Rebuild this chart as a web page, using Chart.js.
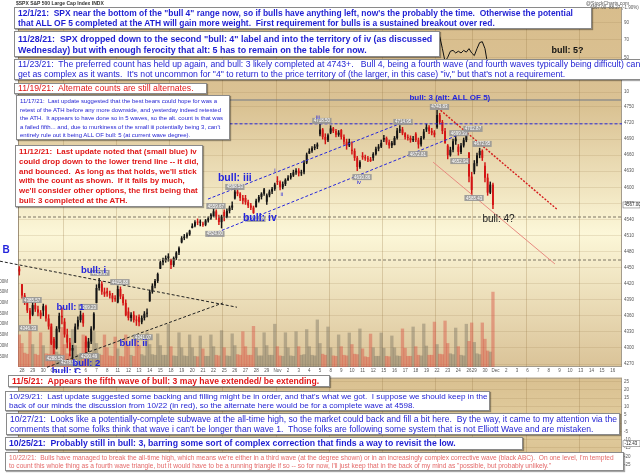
<!DOCTYPE html>
<html>
<head>
<meta charset="utf-8">
<title>$SPX 30 min</title>
<script src="https://cdn.jsdelivr.net/npm/chart.js@4.4.1/dist/chart.umd.min.js"></script>
<style>
  body { margin: 0; background: #fff; }
  #page { position: relative; width: 640px; height: 473px; overflow: hidden; font-family: "Liberation Sans", Arial, sans-serif; }
  canvas { position: absolute; left: 0; }
  #priceChart { top: 0; }
  #lowerChart { top: 373px; }
  .note { position: absolute; box-sizing: border-box; background: #fff; border: 1px solid #8a8a8a;
          box-shadow: 1px 1px 1px rgba(0,0,0,0.35); white-space: pre; overflow: hidden; padding: 0 3px; }
  .tiny { position: absolute; font-size: 5px; line-height: 6px; color: #555; white-space: nowrap; }
</style>
</head>
<body>
<div id="page">
  <canvas id="priceChart" width="640" height="373"></canvas>
  <canvas id="lowerChart" width="640" height="100"></canvas>
  <div class="tiny" style="left:16px;top:0;font-weight:bold;color:#333">$SPX S&amp;P 500 Large Cap Index INDX</div>
  <div class="tiny" style="left:586px;top:0">@StockCharts.com</div>
  <div class="tiny" style="left:590px;top:5px;font-size:4.5px">4567.00 -88.27 (-1.90%)</div>
</div>
<script>
// trading days on the axis (Sep 27 is only the last bar, Nov 26 is a half day)
const tradingDays = [
  '2021-09-27','2021-09-28','2021-09-29','2021-09-30',
  '2021-10-01','2021-10-04','2021-10-05','2021-10-06','2021-10-07','2021-10-08',
  '2021-10-11','2021-10-12','2021-10-13','2021-10-14','2021-10-15',
  '2021-10-18','2021-10-19','2021-10-20','2021-10-21','2021-10-22',
  '2021-10-25','2021-10-26','2021-10-27','2021-10-28','2021-10-29',
  '2021-11-01','2021-11-02','2021-11-03','2021-11-04','2021-11-05',
  '2021-11-08','2021-11-09','2021-11-10','2021-11-11','2021-11-12',
  '2021-11-15','2021-11-16','2021-11-17','2021-11-18','2021-11-19',
  '2021-11-22','2021-11-23','2021-11-24','2021-11-26',
  '2021-11-29','2021-11-30',
  '2021-12-01','2021-12-02','2021-12-03','2021-12-06','2021-12-07','2021-12-08',
  '2021-12-09','2021-12-10','2021-12-13','2021-12-14','2021-12-15','2021-12-16'
];
const shortDays = { '2021-09-27': 1, '2021-11-26': 2 };
const monthNames = ['Jan','Feb','Mar','Apr','May','Jun','Jul','Aug','Sep','Oct','Nov','Dec'];

// candles, 4 bars per session
const opens = [
  4448,
  4419,4398,4385,4370,  4362,4380,4372,4366,  4370,4378,4355,4340,
  4317,4300,4336,4360,  4349,4325,4310,4295,  4310,4340,4352,4362,
  4320,4300,4312,4336,  4384,4412,4420,4405,  4406,4402,4398,4392,
  4385,4410,4396,4384,  4368,4356,4362,4352,  4358,4348,4356,4364,
  4387,4405,4416,4425,  4448,4460,4464,4468,  4464,4455,4468,4478,
  4497,4505,4508,4512,  4524,4528,4535,4534,  4532,4530,4538,4542,
  4546,4555,4545,4535,  4554,4545,4556,4562,  4579,4592,4588,4580,
  4580,4572,4566,4562,  4563,4575,4582,4588,  4573,4585,4592,4597,
  4611,4610,4600,4606,  4613,4618,4622,4628,  4631,4626,4628,4646,
  4663,4668,4673,4676,  4699,4708,4694,4688,  4702,4710,4705,4698,
  4707,4694,4685,4678,  4670,4668,4655,4638,  4659,4656,4654,4652,
  4655,4662,4672,4676,  4689,4692,4684,4678,  4679,4692,4706,4708,
  4701,4694,4692,4688,  4700,4688,4680,4692,  4708,4712,4705,4702,
  4712,4735,4722,4705,  4678,4660,4670,4686,  4676,4666,4678,4688,
  4665,4620,
  4629,4645,4660,4668,  4640,4618,4590,4605
];
const highs = [
  4452,
  4419,4402,4389,4374,  4385,4384,4378,4370,  4382,4380,4362,4345,
  4320,4340,4365,4375,  4355,4335,4318,4305,  4345,4358,4369,4365,
  4322,4318,4340,4366,  4418,4430,4424,4412,  4412,4406,4402,4398,
  4416,4414,4400,4390,  4375,4366,4368,4360,  4362,4360,4368,4373,
  4408,4420,4428,4440,  4462,4468,4472,4476,  4466,4470,4480,4489,
  4508,4512,4515,4520,  4532,4538,4541,4539,  4535,4540,4545,4551,
  4560,4558,4548,4548,  4558,4560,4565,4573,  4598,4596,4590,4585,
  4585,4576,4570,4565,  4578,4585,4590,4598,  4588,4595,4600,4608,
  4620,4612,4610,4616,  4622,4626,4632,4635,  4635,4632,4650,4664,
  4672,4676,4680,4683,  4718,4710,4700,4700,  4715,4712,4708,4706,
  4708,4698,4690,4690,  4685,4672,4658,4650,  4665,4660,4658,4656,
  4665,4675,4680,4688,  4697,4694,4688,4686,  4695,4710,4715,4712,
  4702,4698,4696,4695,  4702,4692,4695,4708,  4718,4715,4710,4706,
  4744,4738,4725,4710,  4680,4675,4690,4699,  4680,4682,4692,4703,
  4665,4628,
  4650,4664,4673,4670,  4646,4625,4610,4608
];
const lows = [
  4436,
  4393,4381,4366,4346,  4360,4368,4360,4355,  4360,4350,4335,4306,
  4289,4298,4330,4345,  4320,4300,4285,4279,  4310,4335,4348,4340,
  4291,4293,4308,4333,  4384,4408,4400,4396,  4396,4393,4386,4387,
  4384,4392,4380,4360,  4352,4350,4348,4342,  4341,4345,4352,4358,
  4387,4402,4412,4422,  4448,4455,4460,4462,  4448,4452,4465,4474,
  4496,4502,4505,4510,  4524,4526,4530,4528,  4527,4528,4535,4540,
  4545,4540,4530,4524,  4537,4543,4552,4558,  4578,4584,4575,4569,
  4568,4562,4558,4551,  4563,4572,4578,4585,  4568,4582,4588,4594,
  4605,4595,4597,4603,  4613,4615,4620,4624,  4621,4622,4625,4644,
  4663,4665,4670,4672,  4696,4690,4681,4685,  4700,4702,4694,4695,
  4690,4680,4671,4676,  4662,4650,4631,4635,  4652,4650,4648,4648,
  4650,4660,4668,4674,  4685,4680,4673,4674,  4679,4690,4702,4698,
  4690,4688,4684,4685,  4685,4673,4677,4690,  4704,4700,4698,4694,
  4710,4718,4700,4682,  4653,4658,4666,4680,  4660,4663,4675,4685,
  4610,4585,
  4625,4640,4655,4650,  4610,4585,4588,4560
];
const closes = [
  4443,
  4398,4385,4370,4353,  4380,4372,4366,4359,  4378,4355,4340,4308,
  4300,4336,4360,4357,  4325,4310,4295,4300,  4340,4352,4362,4346,
  4300,4312,4336,4364,  4412,4420,4405,4400,  4402,4398,4392,4391,
  4410,4396,4384,4361,  4356,4362,4352,4351,  4348,4356,4364,4364,
  4405,4416,4425,4438,  4460,4464,4468,4471,  4455,4468,4478,4486,
  4505,4508,4512,4519,  4528,4535,4534,4536,  4530,4538,4542,4549,
  4555,4545,4535,4545,  4545,4556,4562,4566,  4592,4588,4580,4575,
  4572,4566,4562,4552,  4575,4582,4588,4596,  4585,4592,4597,4605,
  4610,4600,4606,4614,  4618,4622,4628,4631,  4626,4628,4646,4661,
  4668,4673,4676,4680,  4708,4694,4688,4697,  4710,4705,4698,4702,
  4694,4685,4678,4685,  4668,4655,4638,4647,  4656,4654,4652,4649,
  4662,4672,4676,4683,  4692,4684,4678,4683,  4692,4706,4708,4701,
  4694,4692,4688,4689,  4688,4680,4692,4704,  4712,4705,4702,4698,
  4735,4722,4705,4683,  4660,4670,4686,4691,  4666,4678,4688,4701,
  4620,4595,
  4645,4660,4668,4655,  4618,4590,4605,4567
];
// volume in millions
const volumes = [
  150,
  110,65,60,190,  105,60,55,160,  100,62,60,200,
  120,70,60,185,  105,62,58,175,  100,58,55,150,
  115,65,60,165,  110,60,55,150,  90,52,50,140,
  85,50,48,150,   95,55,50,145,   100,58,52,160,
  105,58,55,155,  100,55,55,200,  95,52,50,160,
  90,52,50,150,   90,50,48,145,   85,50,50,150,
  95,55,52,170,   90,52,50,155,   100,58,55,165,
  95,55,55,190,   90,52,52,160,   100,55,55,200,
  95,52,50,160,   90,52,50,165,   95,55,58,175,
  95,55,52,220,   110,60,55,187,  90,52,50,150,
  95,55,52,159,   105,60,58,178,  85,48,45,154,
  90,50,50,159,   88,50,48,145,   90,52,50,178,
  88,50,50,187,   95,55,52,201,   98,55,55,210,
  105,60,58,215,  110,62,58,182,  95,55,52,200,
  120,206,
  115,62,58,206,  130,75,70,350
];
// top oscillator panel, only the part that shows between the notes (from bar 157 on)
const rsiStart = 157;
const rsiValues = [72, 74, 60, 45, 50, 57, 58, 55, 57, 55, 58, 56, 60, 55, 52, 60, 67, 68, 60, 42, 38, 35];
const lowerLast = -12.43;

const priceTicks = [4270,4280,4290,4300,4310,4320,4330,4340,4350,4360,4370,4380,4390,4400,4410,4420,
  4430,4440,4450,4460,4470,4480,4490,4500,4510,4520,4530,4540,4550,4560,4570,4580,4590,4600,4610,
  4620,4630,4640,4650,4660,4670,4680,4690,4700,4710,4720,4730,4740,4750];
const volumeTicks = [50,100,150,200,250,300,350,400];
const rsiTicks = [10,30,50,70,90];
const lowerTicks = [25,20,15,10,5,0,-5,-10,-15,-20,-25];

// drawn-on lines, tags and wave labels, placed in bar index / price
const blue = '#2525dc';
const trendLines = [
  { from: [70.9, 4578], to: [145.7, 4724], color: blue, width: 1, dash: [3, 2] },
  { from: [70.9, 4509], to: [171.6, 4711], color: blue, width: 1, dash: [3, 2] },
  { from: [79, 4718.5], to: [226.5, 4718.5], color: blue, width: 1, dash: [3, 2] },
  { from: [-7.3, 4462], to: [81.8, 4376], color: '#222', width: 1, dash: [3, 2] },
  { from: [10.4, 4264], to: [76.5, 4384], color: '#222', width: 1, dash: [3, 2] },
  { from: [-0.5, 4544.5], to: [226.5, 4544.5], color: '#7d7565', width: 1, dash: [3, 2] },
  { from: [-0.5, 4464.2], to: [226.5, 4464.2], color: '#7d7565', width: 1, dash: [3, 2] },
  { from: [157.3, 4748], to: [202.4, 4557.6], color: '#d41c1c', width: 1.4, dash: [2, 1.5] },
  { from: [155.5, 4647], to: [201.3, 4456.8], color: '#e88a80', width: 1, dash: [] }
];
const priceTags = [
  { bar: 157.9, price: 4750, text: '4743.83' },
  { bar: 113.7, price: 4724, text: '4718.50' },
  { bar: 144.2, price: 4722, text: '4714.95' },
  { bar: 165.2, price: 4701, text: '4699.39' },
  { bar: 170.5, price: 4709, text: '4702.87' },
  { bar: 149.8, price: 4662, text: '4672.81' },
  { bar: 165.6, price: 4649, text: '4652.94' },
  { bar: 173.9, price: 4681, text: '4672.95' },
  { bar: 170.9, price: 4580, text: '4585.43' },
  { bar: 128.8, price: 4619, text: '4630.86' },
  { bar: 81.0, price: 4600.6, text: '4598.53' },
  { bar: 73.9, price: 4565, text: '4559.67' },
  { bar: 88.9, price: 4541, text: '4551.66' },
  { bar: 73.5, price: 4513, text: '4524.00' },
  { bar: 30.3, price: 4440, text: '4429.97' },
  { bar: 37.8, price: 4423, text: '4415.88' },
  { bar: 4.8, price: 4389.5, text: '4385.57' },
  { bar: 25.8, price: 4376.5, text: '4369.23' },
  { bar: 3.3, price: 4337, text: '4346.33' },
  { bar: 46.5, price: 4320, text: '4341.07' },
  { bar: 13.4, price: 4281, text: '4288.52' },
  { bar: 18.7, price: 4272, text: '4278.94' },
  { bar: 26.2, price: 4285, text: '4290.49' }
];
const waveLabels = [
  { text: 'B', bar: -5.0, price: 4483, font: 'bold 10px', color: blue },
  { text: 'bull: i', bar: 27.9, price: 4445.5, font: 'bold 9.5px', color: blue },
  { text: 'bull: 1', bar: 19.2, price: 4376.5, font: 'bold 9.5px', color: blue },
  { text: 'bull: ii', bar: 42.9, price: 4309, font: 'bold 9.5px', color: blue },
  { text: 'bull: 2', bar: 25.2, price: 4272, font: 'bold 9.5px', color: blue },
  { text: 'bull: C', bar: 17.7, price: 4257, font: 'bold 9.5px', color: blue },
  { text: 'bull: iii', bar: 81.0, price: 4617, font: 'bold 10.5px', color: blue },
  { text: 'bull: iv', bar: 90.4, price: 4543, font: 'bold 10.5px', color: blue },
  { text: 'bull: 3 (alt: ALL OF 5)', bar: 161.8, price: 4767, font: 'bold 8px', color: blue },
  { text: 'bull: 4?', bar: 180.1, price: 4541, font: '10px', color: '#222' },
  { text: 'bull: 5?', bar: 206.0, price: 4855, font: 'bold 9px', color: '#111' },
  { text: 'i', bar: 96.1, price: 4632, font: '6px', color: blue },
  { text: 'ii', bar: 98.7, price: 4586, font: '6px', color: blue },
  { text: 'iii', bar: 112.2, price: 4731, font: '6px', color: blue },
  { text: 'iv', bar: 127.6, price: 4610, font: '6px', color: blue }
];

// the dated notes pasted over the chart
const noteBlue = '#1e1ed2', noteRed = '#e01818';
const notes = [
  { x: 14, y: 7, w: 578, h: 22, size: 8.45, bold: true, lh: 10, color: noteBlue, lines: [
    '12/1/21:  SPX near the bottom of the "bull 4" range now, so if bulls have anything left, now\'s the probably the time.  Otherwise the potential',
    'that ALL OF 5 completed at the ATH will gain more weight.  First requirement for bulls is a sustained breakout over red.'] },
  { x: 14, y: 31, w: 426, h: 26, size: 8.9, bold: true, lh: 10.5, pad: 2, color: noteBlue, lines: [
    '11/28/21:  SPX dropped down to the second "bull: 4" label and into the territory of iv (as discussed',
    'Wednesday) but with enough ferocity that alt: 5 has to remain on the table for now.'] },
  { x: 14, y: 59, w: 640, h: 21, size: 8.7, bold: false, lh: 9.8, color: noteBlue, lines: [
    '11/23/21:  The preferred count has held up again, and bull: 3 likely completed at 4743+.   Bull 4, being a fourth wave (and fourth waves typically being difficult) can',
    'get as complex as it wants.  It\'s not uncommon for "4" to return to the price territory of (the larger, in this case) "iv," but that\'s not a requirement.'] },
  { x: 14, y: 83, w: 193, h: 11, size: 8.7, bold: false, lh: 9.5, color: noteRed, lines: [
    '11/19/21:  Alternate counts are still alternates.'] },
  { x: 16, y: 95, w: 214, h: 45, size: 6, bold: false, lh: 8.5, pad: 1, color: noteBlue, lines: [
    '11/17/21:  Last update suggested that the best bears could hope for was a',
    'retest of the ATH before any more downside, and yesterday indeed retested',
    'the ATH.  It appears to have done so in 5 waves, so the alt. count is that was',
    'a failed fifth... and, due to murkiness of the small iii potentially being 3, can\'t',
    'entirely rule out it being ALL OF bull: 5 (at current wave degree).'] },
  { x: 15, y: 145, w: 188, h: 62, size: 7.95, bold: true, lh: 9.8, pad: 1, color: noteRed, lines: [
    '11/12/21:  Last update noted that (small blue) iv',
    'could drop down to the lower trend line -- it did,',
    'and bounced.  As long as that holds, we\'ll stick',
    'with the count as shown.  If it fails by much,',
    'we\'ll consider other options, the first being that',
    'bull: 3 completed at the ATH.'] },
  { x: 8, y: 375, w: 322, h: 12, size: 8.6, bold: true, lh: 10.5, color: noteRed, lines: [
    '11/5/21:  Appears the fifth wave of bull: 3 may have extended/ be extending.'] },
  { x: 5, y: 391, w: 485, h: 20, size: 8.1, bold: false, lh: 9.2, color: noteBlue, lines: [
    '10/29/21:  Last update suggested some backing and filling might be in order, and that\'s what we got.  I suppose we should keep in the',
    'back of our minds the discussion from 10/22 (in red), so the alternate here would be for a complete wave at 4598.'] },
  { x: 6, y: 413, w: 614, h: 22, size: 8.6, bold: false, lh: 10, color: noteBlue, lines: [
    '10/27/21:  Looks like a potentially-complete subwave at the all-time high, so the market could back and fill a bit here.  By the way, it came to my attention via the',
    'comments that some folks think that wave i can\'t be longer than wave 1.  Those folks are following some system that is not Elliott Wave and are mistaken.'] },
  { x: 5, y: 437, w: 518, h: 13, size: 8.7, bold: true, lh: 11, color: noteBlue, lines: [
    '10/25/21:  Probably still in bull: 3, barring some sort of complex correction that finds a way to revisit the low.'] },
  { x: 5, y: 452, w: 619, h: 19, size: 6.6, bold: false, lh: 8, pad: 1, color: '#e46a6a', lines: [
    '10/22/21:  Bulls have managed to break the all-time high, which means we\'re either in a third wave (at the degree shown) or in an increasingly complex corrective wave (black ABC).  On one level, I\'m tempted',
    'to count this whole thing as a fourth wave triangle, but it would have to be a running triangle if so -- so for now, I\'ll just keep that in the back of my mind as "possible, but probably unlikely."'] }
];

Chart.defaults.font.family = '"Liberation Sans", Arial, sans-serif';

// category labels: one slot per bar, the date only on the first bar of a session
const barLabels = [];
const mondayStart = [];
tradingDays.forEach((d, n) => {
  const count = shortDays[d] || 4;
  const dt = new Date(d + 'T12:00:00Z');
  const day = dt.getUTCDate();
  const text = n === 0 ? '' : (day === 1 ? monthNames[dt.getUTCMonth()] : String(day));
  for (let k = 0; k < count; k++) {
    barLabels.push(k === 0 ? text : '');
    mondayStart.push(k === 0 && dt.getUTCDay() === 1);
  }
});

const upColor = '#151515', downColor = '#d41414';
const isUp = i => closes[i] >= opens[i];
const gridColor = 'rgba(150,120,70,0.17)';
const mondayGrid = ctx => (mondayStart[ctx.index] ? 'rgba(150,120,70,0.28)' : 'transparent');
const rsiData = barLabels.map((_, i) => (i >= rsiStart && i - rsiStart < rsiValues.length ? rsiValues[i - rsiStart] : null));

// tan / pale yellow gradient behind each panel
const panelPaint = {
  id: 'panelPaint',
  beforeDraw(chart, args, opts) {
    const { ctx, chartArea } = chart;
    opts.panels.forEach(p => {
      const s = chart.scales[p.scale];
      const g = ctx.createLinearGradient(0, s.top, 0, s.bottom);
      p.stops.forEach(([at, c]) => g.addColorStop(at, c));
      ctx.save();
      ctx.fillStyle = g;
      ctx.fillRect(chartArea.left, s.top, chartArea.right - chartArea.left, s.bottom - s.top);
      ctx.strokeStyle = '#a49c8c';
      ctx.lineWidth = 1;
      ctx.strokeRect(chartArea.left + 0.5, s.top + 0.5, chartArea.right - chartArea.left - 1, s.bottom - s.top - 1);
      ctx.restore();
    });
  }
};

function valueTag(ctx, x, y, text, fill, fg) {
  ctx.font = '4.5px "Liberation Sans"';
  const w = ctx.measureText(text).width + 3;
  ctx.fillStyle = fill;
  ctx.fillRect(x - w / 2, y - 3, w, 6);
  ctx.fillStyle = fg;
  ctx.textAlign = 'center';
  ctx.textBaseline = 'middle';
  ctx.fillText(text, x, y + 0.3);
}

// trend lines, swing-point tags and wave labels
const markup = {
  id: 'markup',
  afterDatasetsDraw(chart) {
    const { ctx } = chart;
    const xs = chart.scales.x, ys = chart.scales.price;
    const X = b => xs.getPixelForValue(b), Y = p => ys.getPixelForValue(p);
    ctx.save();
    trendLines.forEach(l => {
      ctx.beginPath();
      ctx.strokeStyle = l.color;
      ctx.lineWidth = l.width;
      ctx.setLineDash(l.dash);
      ctx.moveTo(X(l.from[0]), Y(l.from[1]));
      ctx.lineTo(X(l.to[0]), Y(l.to[1]));
      ctx.stroke();
    });
    ctx.setLineDash([]);
    priceTags.forEach(t => valueTag(ctx, X(t.bar), Y(t.price), t.text, 'rgba(150,150,150,0.9)', '#fff'));
    waveLabels.forEach(l => {
      ctx.font = l.font + ' "Liberation Sans"';
      ctx.fillStyle = l.color;
      ctx.textAlign = 'center';
      ctx.textBaseline = 'middle';
      ctx.fillText(l.text, X(l.bar), Y(l.price));
    });
    // last close on the price axis
    const last = closes[closes.length - 1];
    const yl = Y(last);
    ctx.fillStyle = '#fff';
    ctx.strokeStyle = '#777';
    ctx.lineWidth = 0.6;
    ctx.fillRect(623, yl - 3, 17, 6);
    ctx.strokeRect(623, yl - 3, 17, 6);
    ctx.fillStyle = '#222';
    ctx.font = '4.5px "Liberation Sans"';
    ctx.textAlign = 'left';
    ctx.textBaseline = 'middle';
    ctx.fillText(last.toFixed(2), 624.5, yl + 0.3);
    ctx.restore();
  }
};

const smallTicks = { font: { size: 4.5 }, color: '#555', padding: 2, callback: v => String(v) };

new Chart(document.getElementById('priceChart'), {
  type: 'bar',
  data: {
    labels: barLabels,
    datasets: [
      { type: 'line', data: rsiData, yAxisID: 'rsi', borderColor: '#111', borderWidth: 1,
        pointRadius: 0, spanGaps: false, order: 0 },
      { label: 'body', data: opens.map((o, i) => [Math.min(o, closes[i]), Math.max(o, closes[i])]),
        yAxisID: 'price', backgroundColor: c => (isUp(c.dataIndex) ? upColor : downColor),
        barPercentage: 0.72, categoryPercentage: 1, minBarLength: 1, grouped: false, order: 1 },
      { label: 'wick', data: highs.map((h, i) => [lows[i], h]),
        yAxisID: 'price', backgroundColor: c => (isUp(c.dataIndex) ? upColor : downColor),
        barThickness: 0.8, grouped: false, order: 2 },
      { label: 'volume', data: volumes, yAxisID: 'vol',
        backgroundColor: c => (isUp(c.dataIndex) ? 'rgba(125,118,100,0.45)' : 'rgba(218,82,66,0.45)'),
        barPercentage: 1, categoryPercentage: 1, grouped: false, order: 3 }
    ]
  },
  options: {
    responsive: false,
    animation: false,
    layout: { padding: { top: 7 } },
    plugins: {
      legend: { display: false },
      tooltip: { enabled: false },
      panelPaint: { panels: [
        { scale: 'rsi', stops: [[0, '#d8bd8c'], [1, '#dbc294']] },
        { scale: 'price', stops: [[0, '#d8bf8f'], [0.5, '#fcf7d8'], [1, '#dac398']] }
      ] }
    },
    scales: {
      x: {
        offset: true,
        grid: { color: mondayGrid, drawTicks: false },
        border: { display: false },
        ticks: { autoSkip: false, maxRotation: 0, minRotation: 0, font: { size: 4.5 }, color: '#555', padding: 1,
                 callback: (v, i) => barLabels[i] },
        afterFit: s => { s.height = 6; }
      },
      rsi: {
        position: 'right', stack: 'panels', stackWeight: 93, min: 0.8, max: 108,
        afterBuildTicks: s => { s.ticks = rsiTicks.map(v => ({ value: v })); },
        grid: { color: gridColor, drawTicks: false }, border: { display: false },
        ticks: smallTicks, afterFit: s => { s.width = 18; }
      },
      price: {
        position: 'right', stack: 'panels', stackWeight: 267, min: 4264.4, max: 4763,
        afterBuildTicks: s => { s.ticks = priceTicks.map(v => ({ value: v })); },
        grid: { color: gridColor, drawTicks: false }, border: { display: false },
        ticks: smallTicks, afterFit: s => { s.width = 18; }
      },
      vol: {
        position: 'left', min: 0, max: 1682,
        afterBuildTicks: s => { s.ticks = volumeTicks.map(v => ({ value: v })); },
        grid: { display: false }, border: { display: false },
        ticks: { font: { size: 4.5 }, color: '#555', padding: 2, callback: v => v + 'M' },
        afterFit: s => { s.width = 18; }
      }
    }
  },
  plugins: [panelPaint, markup]
});

const lowerTag = {
  id: 'lowerTag',
  afterDraw(chart) {
    const y = chart.scales.y.getPixelForValue(lowerLast);
    const { ctx } = chart;
    ctx.save();
    ctx.fillStyle = '#fff';
    ctx.strokeStyle = '#777';
    ctx.lineWidth = 0.6;
    ctx.fillRect(623, y - 3, 17, 6);
    ctx.strokeRect(623, y - 3, 17, 6);
    ctx.fillStyle = '#222';
    ctx.font = '4.5px "Liberation Sans"';
    ctx.textBaseline = 'middle';
    ctx.fillText(lowerLast.toFixed(2), 624.5, y + 0.3);
    ctx.restore();
  }
};

new Chart(document.getElementById('lowerChart'), {
  type: 'bar',
  data: { labels: barLabels, datasets: [] },
  options: {
    responsive: false,
    animation: false,
    layout: { padding: { left: 18, bottom: 2 } },
    plugins: {
      legend: { display: false },
      tooltip: { enabled: false },
      panelPaint: { panels: [{ scale: 'y', stops: [[0, '#d9c090'], [0.5, '#e2cd9f'], [1, '#d8bf8e']] }] }
    },
    scales: {
      x: { offset: true, grid: { color: mondayGrid, drawTicks: false }, border: { display: false },
           ticks: { display: false }, afterFit: s => { s.height = 0; } },
      y: { position: 'right', min: -27.2, max: 27.2,
           afterBuildTicks: s => { s.ticks = lowerTicks.map(v => ({ value: v })); },
           grid: { color: gridColor, drawTicks: false }, border: { display: false },
           ticks: smallTicks, afterFit: s => { s.width = 18; } }
    }
  },
  plugins: [panelPaint, lowerTag]
});

// notes on top of both charts
const page = document.getElementById('page');
notes.forEach(n => {
  const box = document.createElement('div');
  box.className = 'note';
  box.style.left = n.x + 'px';
  box.style.top = n.y + 'px';
  box.style.width = n.w + 'px';
  box.style.height = n.h + 'px';
  box.style.color = n.color;
  box.style.fontSize = n.size + 'px';
  box.style.fontWeight = n.bold ? 'bold' : 'normal';
  box.style.lineHeight = n.lh + 'px';
  box.style.paddingTop = (n.pad || 0) + 'px';
  box.textContent = n.lines.join('\n');
  page.appendChild(box);
});
</script>
</body>
</html>
